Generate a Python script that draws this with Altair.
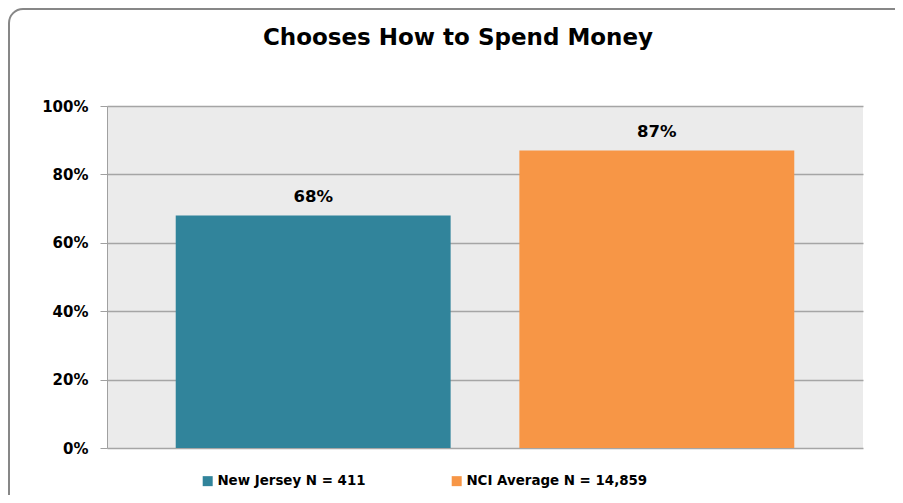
import altair as alt
import pandas as pd

series = ["New Jersey N = 411", "NCI Average N = 14,859"]
values = [0.68, 0.87]
colors = ["#31849B", "#F79646"]
y_ticks = [0, 0.2, 0.4, 0.6, 0.8, 1.0]
title_text = "Chooses How to Spend Money"

df = pd.DataFrame({"series": series, "value": values})
FONT = "DejaVu Sans"

x_enc = alt.X("series:N", sort=series,
              scale=alt.Scale(paddingInner=0.2, paddingOuter=0.2),
              axis=None)

bars = alt.Chart(df).mark_bar().encode(
    x=x_enc,
    y=alt.Y("value:Q",
            scale=alt.Scale(domain=[0, 1]),
            axis=alt.Axis(values=y_ticks, format=".0%", title=None,
                          labelFont=FONT, labelFontWeight="bold", labelFontSize=15,
                          labelColor="#000000", labelPadding=12,
                          tickSize=7, tickColor="#a0a0a0", tickWidth=1,
                          domainColor="#a0a0a0", domainWidth=1,
                          gridColor="#a5a5a5", gridWidth=1.5)),
    color=alt.Color("series:N", sort=series,
                    scale=alt.Scale(domain=series, range=colors),
                    legend=alt.Legend(title=None, orient="none", direction="horizontal",
                                      legendX=94, legendY=368, padding=0,
                                      symbolType="square", symbolSize=100,
                                      symbolStrokeWidth=0, labelOffset=3,
                                      columnPadding=84, labelLimit=400,
                                      labelFont=FONT, labelFontWeight="bold",
                                      labelFontSize=13.4, labelColor="#000000")),
)

labels = alt.Chart(df).mark_text(
    font=FONT, fontWeight="bold", fontSize=16.5, color="#000000",
    baseline="middle", dy=-18
).encode(
    x=x_enc,
    y=alt.Y("value:Q"),
    text=alt.Text("value:Q", format=".0%"),
)

frame = alt.Chart(pd.DataFrame({"a": [0]})).mark_rect(
    filled=False, stroke="#878787", strokeWidth=2, cornerRadius=14
).encode(
    x=alt.value(-98), x2=alt.value(820),
    y=alt.value(-97), y2=alt.value(402),
)

chart = alt.layer(frame, bars, labels).properties(
    width=756, height=342,
    autosize=alt.AutoSizeParams(type="none"),
    padding={"left": 99, "top": 98, "right": 32, "bottom": 47},
    title=alt.TitleParams(title_text, font=FONT, fontWeight="bold", fontSize=23,
                          color="#000000", anchor="middle", dx=-27, offset=-42),
).configure(
    background="#ffffff"
).configure_view(
    fill="#EBEBEB", strokeWidth=0
)

chart.save("out.html", embed_options={"renderer": "svg", "actions": False})
